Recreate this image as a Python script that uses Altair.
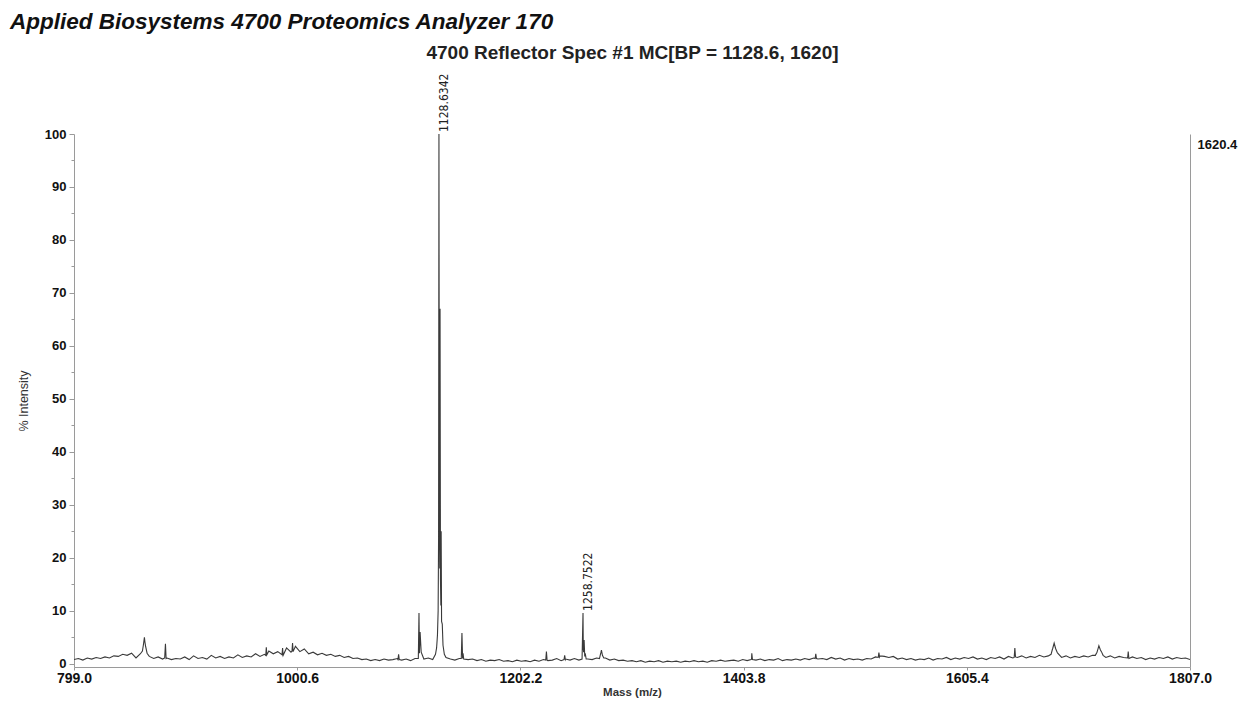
import altair as alt
import pandas as pd

# ---- Spectrum data ----
# baseline / broad profile sampled every 4 Da starting at 799.0
MZ_START = 799.0
MZ_STEP = 4.0
baseline_int = [
    0.8, 1.0, 0.7, 1.1, 0.9, 1.2, 1.0, 1.3, 1.1, 1.5,   # 799-835
    1.4, 1.8, 1.6, 2.0, 1.1, 1.9, 4.2, 1.4, 1.0, 1.3,   # 839-875
    0.9, 1.1, 0.8, 1.0, 0.9, 1.3, 0.8, 1.5, 1.0, 1.2,   # 879-915
    0.9, 1.6, 1.1, 1.4, 1.0, 1.3, 1.1, 1.7, 1.2, 1.5,   # 919-955
    1.3, 1.9, 1.4, 1.8, 2.4, 1.9, 2.3, 2.0, 3.0, 2.2,   # 959-995
    3.3, 2.3, 2.8, 1.9, 2.2, 1.7, 2.0, 1.6, 1.8, 1.4,   # 999-1035
    1.6, 1.2, 1.4, 1.0, 1.1, 0.8, 0.9, 0.6, 0.8, 0.6,   # 1039-1075
    0.9, 0.7, 0.8, 1.0, 0.7, 0.9, 0.6, 1.0, 2.0, 0.9,   # 1079-1115
    1.1, 0.8, 4.5, 8.0, 1.2, 0.9, 0.7, 1.0, 0.9, 0.8,   # 1119-1155
    0.9, 0.6, 0.8, 0.5, 0.7, 0.6, 0.8, 0.5, 0.6, 0.4,   # 1159-1195
    0.7, 0.5, 0.6, 0.4, 0.7, 0.5, 0.8, 0.6, 0.7, 1.0,   # 1199-1235
    0.6, 0.9, 0.7, 1.0, 0.7, 3.0, 0.9, 0.8, 1.1, 2.2,   # 1239-1275
    1.1, 0.7, 0.9, 0.6, 0.7, 0.5, 0.6, 0.4, 0.6, 0.3,   # 1279-1315
    0.5, 0.4, 0.6, 0.3, 0.5, 0.4, 0.5, 0.3, 0.5, 0.4,   # 1319-1355
    0.6, 0.4, 0.5, 0.3, 0.6, 0.5, 0.7, 0.5, 0.6, 0.7,   # 1359-1395
    0.5, 0.8, 0.6, 0.9, 0.7, 0.9, 0.6, 0.8, 0.7, 1.0,   # 1399-1435
    0.6, 0.8, 0.7, 0.9, 0.7, 1.0, 0.8, 1.1, 0.9, 1.0,   # 1439-1475
    0.8, 1.2, 0.9, 1.1, 0.7, 1.0, 0.8, 0.9, 0.7, 1.0,   # 1479-1515
    0.9, 1.3, 1.5, 1.4, 1.2, 1.4, 0.9, 1.1, 0.8, 1.0,   # 1519-1555
    0.7, 0.9, 0.8, 1.1, 0.7, 1.0, 0.9, 1.2, 0.8, 1.1,   # 1559-1595
    0.9, 1.2, 1.0, 1.3, 0.9, 1.1, 0.8, 1.2, 1.0, 1.3,   # 1599-1635
    0.9, 1.4, 1.1, 1.2, 1.5, 1.1, 1.4, 1.2, 1.6, 1.3,   # 1639-1675
    1.5, 2.9, 2.2, 1.2, 1.5, 1.1, 1.4, 1.2, 1.5, 1.3,   # 1679-1715
    1.6, 2.2, 2.3, 1.2, 1.5, 1.1, 1.4, 1.2, 1.8, 1.3,   # 1719-1755
    1.0, 1.2, 0.8, 1.1, 0.9, 1.2, 1.0, 1.3, 0.9, 1.2,   # 1759-1795
    1.0, 1.1, 0.8,                                       # 1799-1807
]

# sharp peaks (m/z, % intensity)
peak_mz = [
    860.8, 861.7, 862.6, 863.6, 865.0,
    880.9, 881.6, 882.2,
    972.2, 972.7, 973.2,
    986.9, 987.4, 987.9,
    995.9, 996.4, 996.9,
    1091.6, 1092.2, 1092.8,
    1110.0, 1110.6, 1111.6, 1112.6,
    1125.5, 1126.5, 1127.3, 1127.9, 1128.3, 1128.63, 1129.0, 1129.35, 1129.63,
    1130.0, 1130.35, 1130.63, 1131.63, 1132.3, 1133.5,
    1148.8, 1149.4, 1150.0, 1150.4,
    1225.1, 1225.7, 1226.3,
    1241.6, 1242.2, 1242.8,
    1257.9, 1258.75, 1259.3, 1259.75, 1260.3, 1260.75, 1261.6,
    1273.6, 1274.5, 1275.4, 1276.3, 1277.5,
    1410.6, 1411.2, 1411.8,
    1468.4, 1469.0, 1469.6,
    1525.4, 1526.0, 1526.6,
    1648.2, 1648.8, 1649.4,
    1681.5, 1682.8, 1684.3, 1685.6, 1687.5,
    1721.5, 1723.3, 1724.7, 1726.1, 1728.5,
    1750.6, 1751.2, 1751.8,
]
peak_int = [
    2.4, 3.6, 5.0, 3.4, 2.0,
    1.1, 3.8, 1.0,
    1.6, 3.1, 1.7,
    1.7, 3.0, 1.6,
    2.4, 3.9, 2.3,
    0.8, 1.8, 0.8,
    1.0, 9.6, 6.0, 2.2,
    1.8, 3.0, 5.5, 10.0, 24.0, 100.0, 30.0, 18.0, 67.0,
    16.0, 11.0, 25.0, 7.5, 3.5, 1.8,
    1.0, 5.8, 1.0, 2.0,
    0.7, 2.3, 0.7,
    0.8, 1.6, 0.8,
    0.9, 9.6, 2.2, 4.5, 1.4, 2.0, 0.9,
    1.0, 1.8, 2.6, 1.6, 1.1,
    0.8, 2.0, 0.8,
    1.0, 1.9, 1.0,
    1.2, 2.1, 1.3,
    1.2, 3.0, 1.3,
    1.8, 2.8, 3.9, 2.9, 2.0,
    1.6, 2.4, 3.4, 2.6, 1.6,
    1.1, 2.3, 1.0,
]

# annotated peaks
label_mz = [1128.6342, 1258.7522]
label_int = [100.0, 9.6]
label_text = ["1128.6342", "1258.7522"]

x_ticks = [799.0, 1000.6, 1202.2, 1403.8, 1605.4, 1807.0]
y_major = [0, 10, 20, 30, 40, 50, 60, 70, 80, 90, 100]
y_minor = [5, 15, 25, 35, 45, 55, 65, 75, 85, 95]
right_value = [98]
right_text = "1620.4"

title_text = "Applied Biosystems 4700 Proteomics Analyzer 170"
subtitle_text = "4700 Reflector Spec #1 MC[BP = 1128.6, 1620]"

# ---- build tables ----
base_df = pd.DataFrame({
    "mz": [MZ_START + MZ_STEP * i for i in range(len(baseline_int))],
    "intensity": baseline_int,
})
peak_df = pd.DataFrame({"mz": peak_mz, "intensity": peak_int})
spec = pd.concat([base_df, peak_df]).sort_values("mz").reset_index(drop=True)
labels = pd.DataFrame({"mz": label_mz, "intensity": label_int, "label": label_text})
minor = pd.DataFrame({"v": y_minor})

FONT = "Liberation Sans, Arial, sans-serif"
NARROW = "Liberation Sans Narrow, Arial Narrow, DejaVu Sans Condensed, sans-serif"
AXIS_GRAY = "#9a9a9a"

xscale = alt.Scale(domain=[799.0, 1807.0], nice=False, zero=False)
yscale = alt.Scale(domain=[-0.6, 100], nice=False, zero=False)

line = alt.Chart(spec).mark_line(color="#3a3a3a", strokeWidth=1.1, clip=True).encode(
    x=alt.X("mz:Q", scale=xscale, axis=alt.Axis(
        orient="bottom", values=x_ticks, format=".1f", labelFlush=False, labelOverlap=False,
        labelFont=FONT, labelFontSize=14, labelFontWeight="bold", labelColor="#111",
        labelPadding=1, tickSize=3, tickColor=AXIS_GRAY, domainColor=AXIS_GRAY, grid=False,
        title="Mass (m/z)", titleFont=FONT, titleFontSize=11.5, titleFontWeight="bold",
        titleColor="#333", titlePadding=1)),
    y=alt.Y("intensity:Q", scale=yscale, axis=alt.Axis(
        orient="left", values=y_major, labelFont=FONT, labelFontSize=13, labelFontWeight="bold",
        labelColor="#111", labelPadding=3, tickSize=5, tickColor=AXIS_GRAY,
        domainColor=AXIS_GRAY, grid=False,
        title="% Intensity", titleFont=FONT, titleFontSize=12.5, titleFontWeight="normal",
        titleColor="#333", titlePadding=14)),
)

peak_labels = alt.Chart(labels).mark_text(
    angle=270, align="left", baseline="top", dx=2, dy=0,
    font=NARROW, fontSize=12, color="#222",
).encode(
    x=alt.X("mz:Q", scale=xscale, axis=alt.Axis(
        orient="top", labels=False, ticks=False, domain=False, grid=False,
        title=subtitle_text, titleFont=FONT, titleFontSize=19, titleFontWeight="bold",
        titleColor="#222", titleBaseline="alphabetic", titlePadding=76)),
    y=alt.Y("intensity:Q", scale=yscale, axis=alt.Axis(
        orient="right", values=right_value, labelExpr=f"'{right_text}'", ticks=False,
        domain=True, domainColor=AXIS_GRAY, grid=False, labelFont=FONT, labelFontSize=13,
        labelFontWeight="bold", labelColor="#111", labelPadding=7, title=None)),
    text="label:N",
)

minor_ticks = alt.Chart(minor).mark_tick(opacity=0).encode(
    y=alt.Y("v:Q", scale=yscale, axis=alt.Axis(
        orient="left", values=y_minor, labels=False, domain=False, tickSize=3,
        tickColor=AXIS_GRAY, grid=False, title=None)),
)

chart = alt.layer(line, peak_labels, minor_ticks).resolve_axis(
    x="independent", y="independent"
).properties(
    width=1116,
    height=533,
    padding={"left": 66, "top": 126, "right": 50, "bottom": 32},
    autosize=alt.AutoSizeParams(type="none"),
    background="white",
    title=alt.TitleParams(
        text=title_text, anchor="start", frame="group", orient="top",
        font=FONT, fontSize=22.5, fontWeight="bold", fontStyle="italic", color="#111",
        baseline="alphabetic", offset=17, dx=-64, dy=25,
    ),
).configure_view(stroke=None)

chart.save("out.html", embed_options={"renderer": "svg", "actions": False})
